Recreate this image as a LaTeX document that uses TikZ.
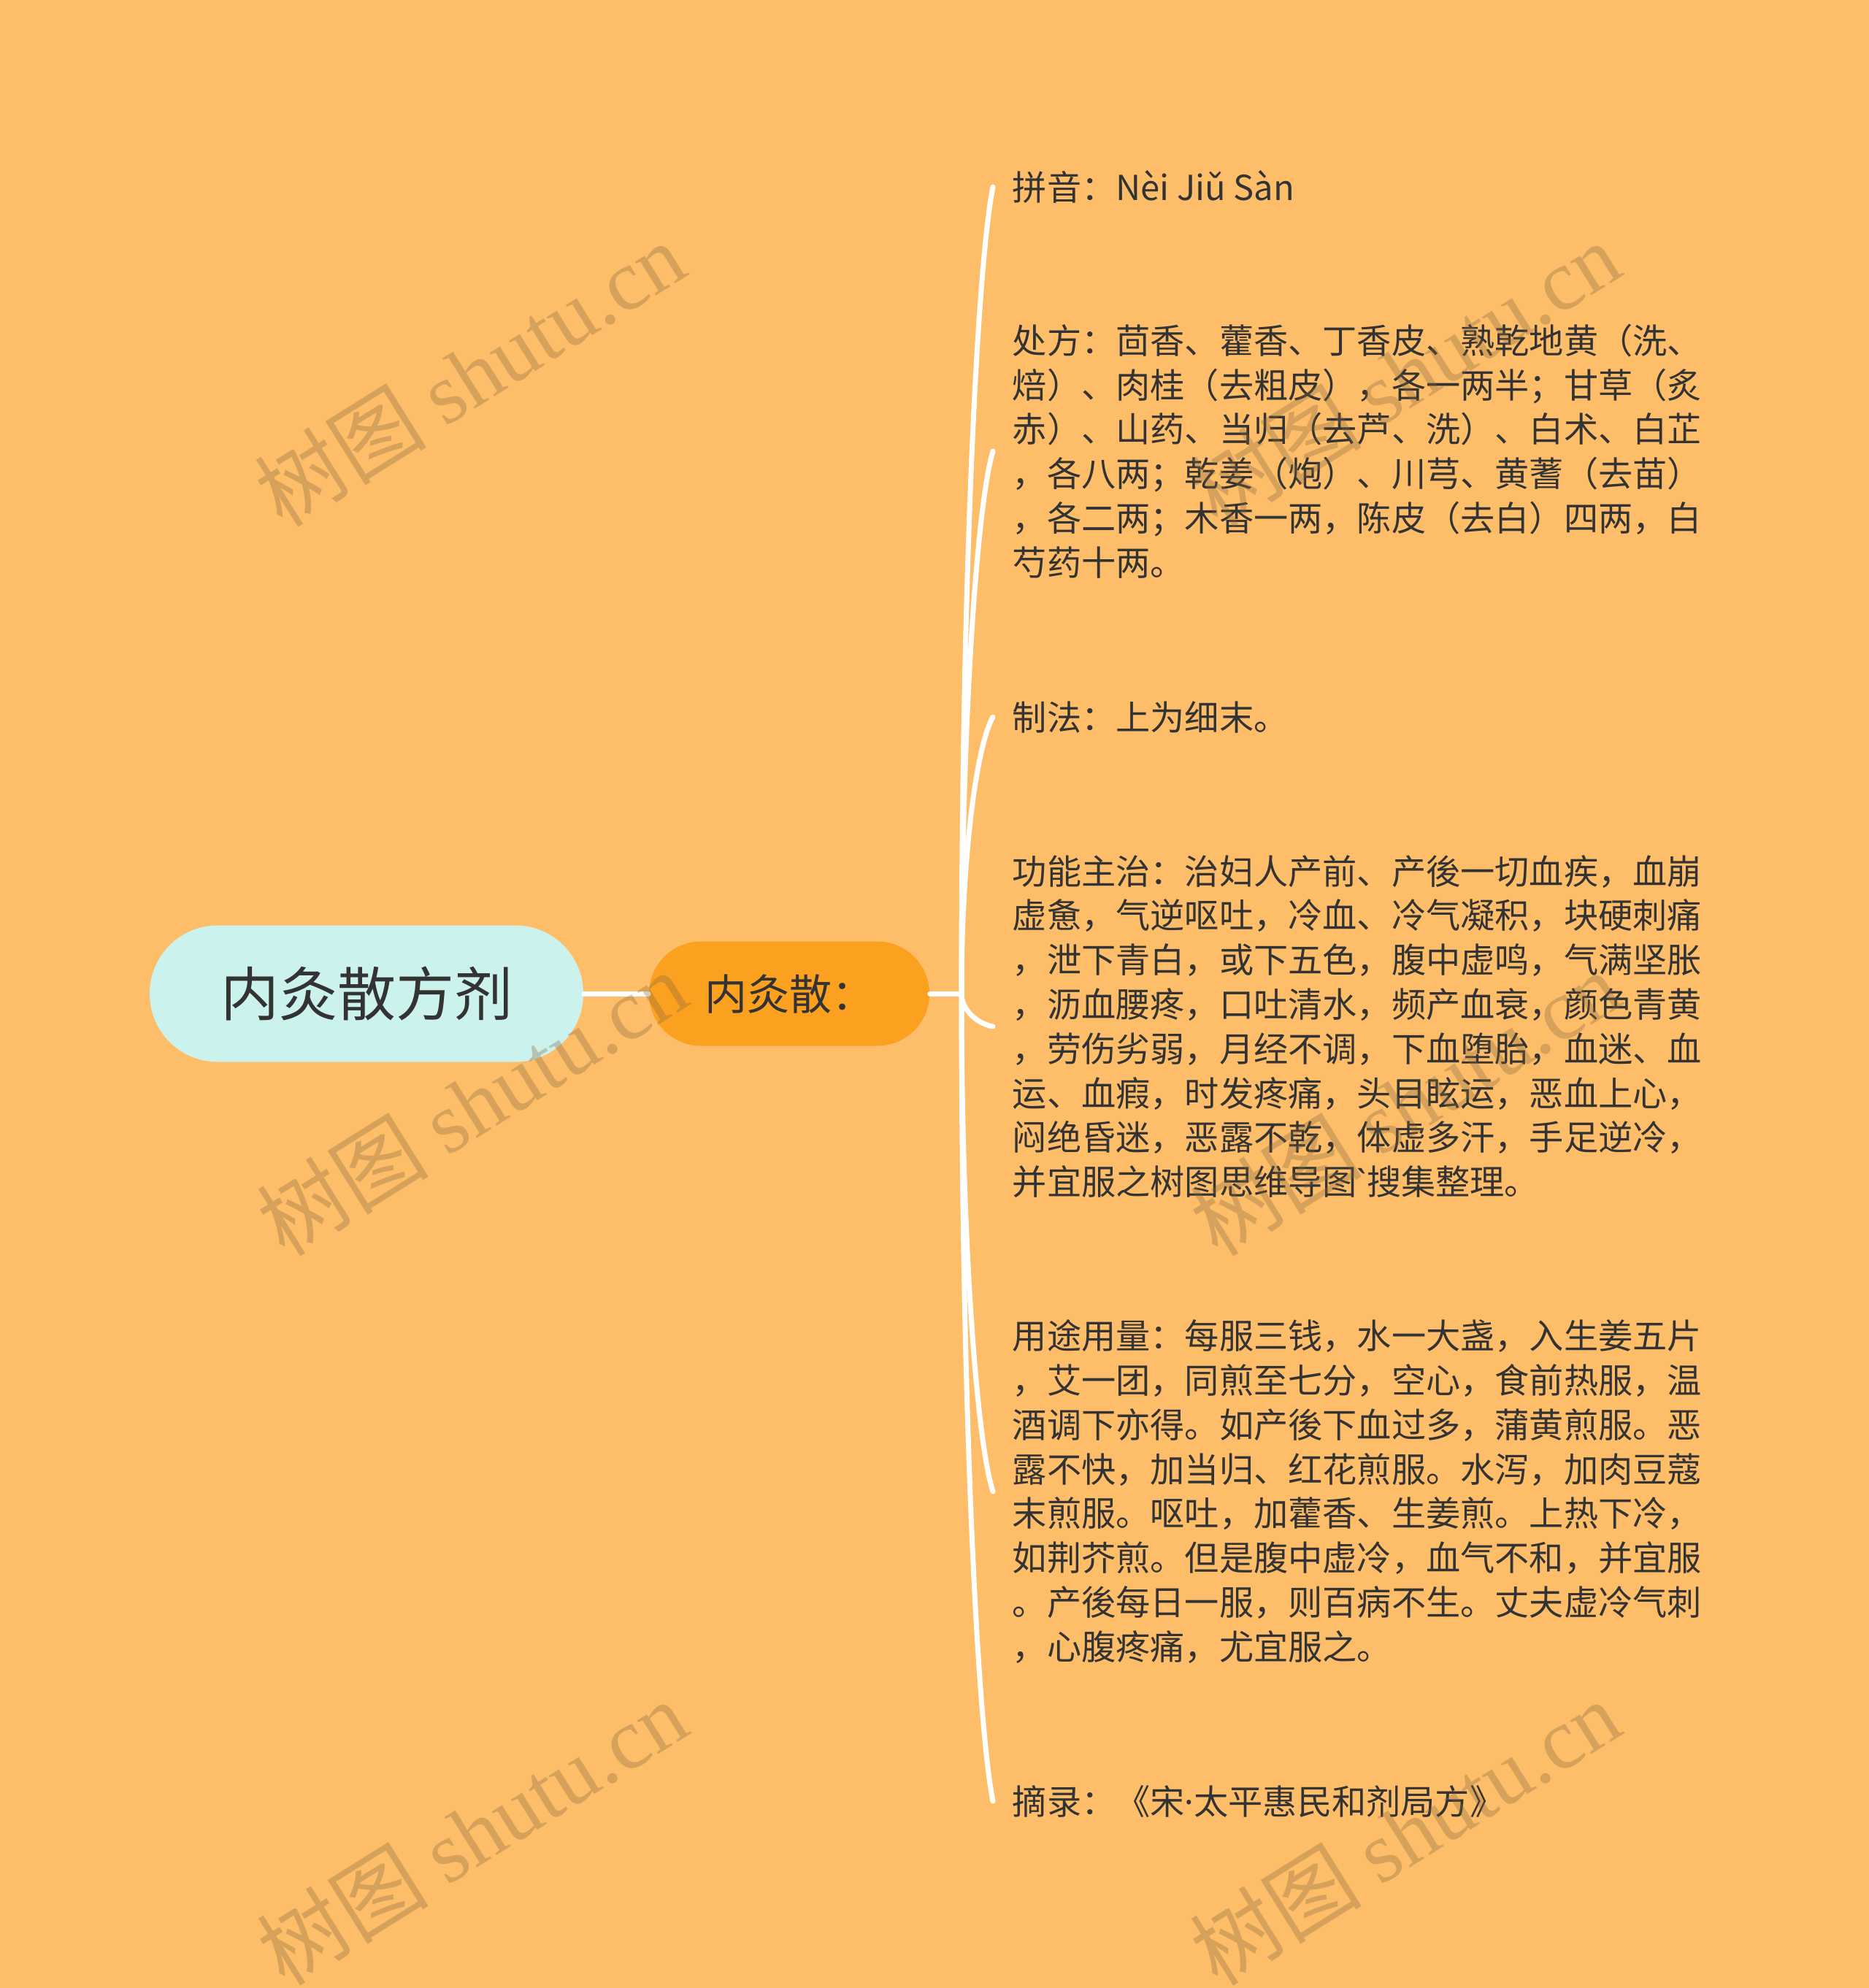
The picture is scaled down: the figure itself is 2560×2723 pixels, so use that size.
\documentclass[tikz,border=0pt]{standalone}
\usepackage{fontspec}
\newfontfamily\cjk{Noto Sans CJK SC}
\newfontfamily\latinfont{Noto Sans}
\newfontfamily\wmfont{Liberation Serif}
\usetikzlibrary{calc}

\definecolor{bgc}{HTML}{FEBE69}
\definecolor{rootc}{HTML}{CCF2EE}
\definecolor{subc}{HTML}{FCA11F}
\definecolor{txtc}{HTML}{333333}
\definecolor{wmc}{RGB}{130,100,60}

\begin{document}
\begin{tikzpicture}[x=0.25pt,y=-0.25pt,
  top/.style={fill=rootc,text=txtc,inner sep=0pt,minimum width=148.5pt,minimum height=46.75pt,rounded corners=23.3pt,font=\cjk\fontsize{20pt}{24pt}\selectfont},
  med/.style={fill=subc,text=txtc,inner sep=0pt,minimum width=96pt,minimum height=35.75pt,rounded corners=17.8pt,font=\cjk\fontsize{14.5pt}{17pt}\selectfont},
  leaf/.style={anchor=west,align=left,text=txtc,inner xsep=6.5pt,inner ysep=0pt,font=\cjk\fontsize{11.8pt}{15.2pt}\selectfont},
  link/.style={white,line width=1.75pt,line cap=round},
  wmark/.style={text=wmc,text opacity=0.32,rotate=32,inner sep=0pt,font=\fontsize{29.5pt}{32pt}\selectfont}
]

\fill[bgc] (0,0) rectangle (2560,2723);
\useasboundingbox (0,0) rectangle (2560,2723);

\node[top] (root) at (502,1361) {内灸散方剂};
\node[med] (sub) at (1081,1361) {内灸散：};
\coordinate (j) at (1317,1361);

\node[leaf] (pinyin) at (1360,256) {拼音：Nèi Jiǔ Sàn};
\node[leaf] (recipe) at (1360,618) {处方：茴香、藿香、丁香皮、熟乾地黄（洗、\\
焙）、肉桂（去粗皮），各一两半；甘草（炙\\
赤）、山药、当归（去芦、洗）、白术、白芷\\
，各八两；乾姜（炮）、川芎、黄蓍（去苗）\\
，各二两；木香一两，陈皮（去白）四两，白\\
芍药十两。};
\node[leaf] (method) at (1360,982) {制法：上为细末。};
\node[leaf] (usage) at (1360,1406) {功能主治：治妇人产前、产後一切血疾，血崩\\
虚惫，气逆呕吐，冷血、冷气凝积，块硬刺痛\\
，泄下青白，或下五色，腹中虚鸣，气满坚胀\\
，沥血腰疼，口吐清水，频产血衰，颜色青黄\\
，劳伤劣弱，月经不调，下血堕胎，血迷、血\\
运、血瘕，时发疼痛，头目眩运，恶血上心，\\
闷绝昏迷，恶露不乾，体虚多汗，手足逆冷，\\
并宜服之树图思维导图{\latinfont `}搜集整理。};
\node[leaf] (dosage) at (1360,2043) {用途用量：每服三钱，水一大盏，入生姜五片\\
，艾一团，同煎至七分，空心，食前热服，温\\
酒调下亦得。如产後下血过多，蒲黄煎服。恶\\
露不快，加当归、红花煎服。水泻，加肉豆蔻\\
末煎服。呕吐，加藿香、生姜煎。上热下冷，\\
如荆芥煎。但是腹中虚冷，血气不和，并宜服\\
。产後每日一服，则百病不生。丈夫虚冷气刺\\
，心腹疼痛，尤宜服之。};
\node[leaf] (source) at (1360,2467) {摘录：《宋{\latinfont ·}太平惠民和剂局方》};

\draw[link] (root) -- (sub);
\draw[link] (sub.east) -- (j);
\draw[link] (j) .. controls +(0,-552) and +(-22,110) .. (pinyin.west);
\draw[link] (j) .. controls +(0,-372) and +(-22,74) .. (recipe.west);
\draw[link] (j) .. controls +(0,-190) and +(-22,38) .. (method.west);
\draw[link] (j) .. controls +(0,22) and +(-22,-4) .. (usage.west);
\draw[link] (j) .. controls +(0,341) and +(-22,-68) .. (dosage.west);
\draw[link] (j) .. controls +(0,553) and +(-22,-111) .. (source.west);

%watermarks
\node[wmark] (wm1) at (643,512) {\cjk 树图 \wmfont shutu.cn};
\node[wmark] (wm2) at (646,1511) {\cjk 树图 \wmfont shutu.cn};
\node[wmark] (wm3) at (646,2510) {\cjk 树图 \wmfont shutu.cn};
\node[wmark] (wm4) at (1924,512) {\cjk 树图 \wmfont shutu.cn};
\node[wmark] (wm5) at (1924,1511) {\cjk 树图 \wmfont shutu.cn};
\node[wmark] (wm6) at (1924,2510) {\cjk 树图 \wmfont shutu.cn};

\end{tikzpicture}
\end{document}
